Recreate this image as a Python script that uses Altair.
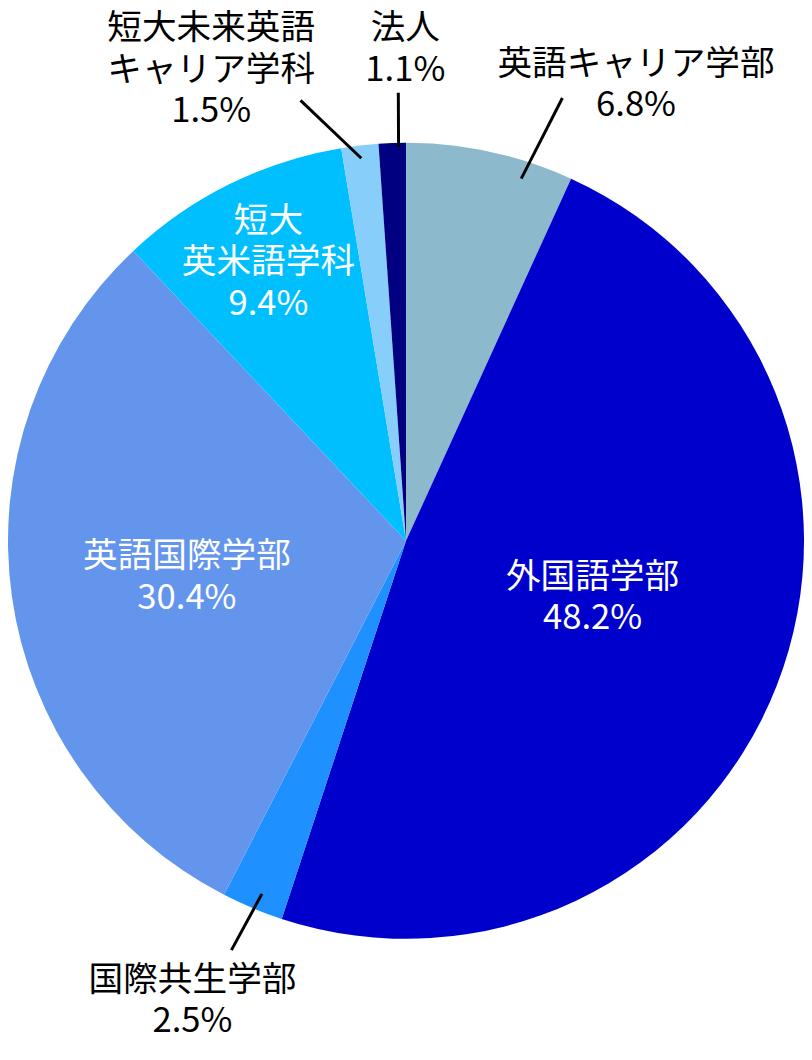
import math
import altair as alt
import pandas as pd

# ---- data ----
categories = ["英語キャリア学部", "外国語学部", "国際共生学部", "英語国際学部",
              "短大英米語学科", "短大未来英語キャリア学科", "法人"]
label_text = ["英語キャリア学部", "外国語学部", "国際共生学部", "英語国際学部",
              "短大\n英米語学科", "短大未来英語\nキャリア学科", "法人"]
shares = [6.8, 48.2, 2.5, 30.4, 9.4, 1.5, 1.1]
colors = ["#8DB9CC", "#0000CD", "#1E90FF", "#6495ED", "#00BFFF", "#87CEFA", "#000080"]

# ---- layout (styles) ----
CX, CY, R = 402, 533, 402
W, H = 804, 1040
FONT = "Noto Sans CJK JP"
LH = 42
outside = [True, False, True, False, False, True, True]
# label: (angle nudge in degrees from slice mid-angle, radius fraction)
label_polar = [(14.5, 1.284), (-4.4, 0.49), (2.2, 1.274), (-1.4, 0.558),
               (0.0, 0.78), (-15.8, 1.281), (1.9, 1.235)]
# leader: (start nudge, start r, end nudge, end r)
leader_polar = [(5.4, 0.955, 7.2, 1.18), None, (-0.5, 0.958, 0.4, 1.118), None,
                None, (0.0, 0.968, -6.8, 1.138), (0.9, 0.99, 1.0, 1.126)]

total = sum(shares)
cum = 0.0
rows, lab_rows, line_rows = [], [], []


def polar(deg, rf):
    a = math.radians(deg)
    return CX + rf * R * math.sin(a), CY - rf * R * math.cos(a)


for i, (c, lt, s) in enumerate(zip(categories, label_text, shares)):
    mid = (cum + s / 2) / total * 360.0
    cum += s
    rows.append({"cat": c, "share": s, "order": i})
    nud, rf = label_polar[i]
    lx, ly = polar(mid + nud, rf)
    full = lt + "\n" + f"{s:.1f}%"
    n = full.count("\n") + 1
    lab_rows.append({"text": full, "x": lx, "y": ly - (n - 1) * LH / 2,
                     "color": "black" if outside[i] else "white"})
    if leader_polar[i] is not None:
        sn, sr, en, er = leader_polar[i]
        x1, y1 = polar(mid + sn, sr)
        x2, y2 = polar(mid + en, er)
        line_rows.append({"x": x1, "y": y1, "x2": x2, "y2": y2})

df = pd.DataFrame(rows)
labels = pd.DataFrame(lab_rows)
lines = pd.DataFrame(line_rows)

pie = alt.Chart(df).mark_arc(outerRadius=R, stroke=None).encode(
    theta=alt.Theta("share:Q", stack=True),
    order=alt.Order("order:Q"),
    color=alt.Color("cat:N", scale=alt.Scale(domain=categories, range=colors), legend=None),
    x=alt.value(CX),
    y=alt.value(CY),
)

leaders = alt.Chart(lines).mark_rule(color="black", strokeWidth=3).encode(
    x=alt.X("x:Q", scale=None),
    y=alt.Y("y:Q", scale=None),
    x2="x2:Q",
    y2="y2:Q",
)

text = alt.Chart(labels).mark_text(
    font=FONT, fontSize=35, lineBreak="\n", lineHeight=LH,
    align="center", baseline="middle",
).encode(
    x=alt.X("x:Q", scale=None),
    y=alt.Y("y:Q", scale=None),
    text="text:N",
    color=alt.Color("color:N", scale=None),
)

chart = alt.layer(pie, leaders, text).properties(
    width=W, height=H, padding=0, autosize="none"
).configure_view(stroke=None)

chart.save("out.html", embed_options={"renderer": "svg", "actions": False})
